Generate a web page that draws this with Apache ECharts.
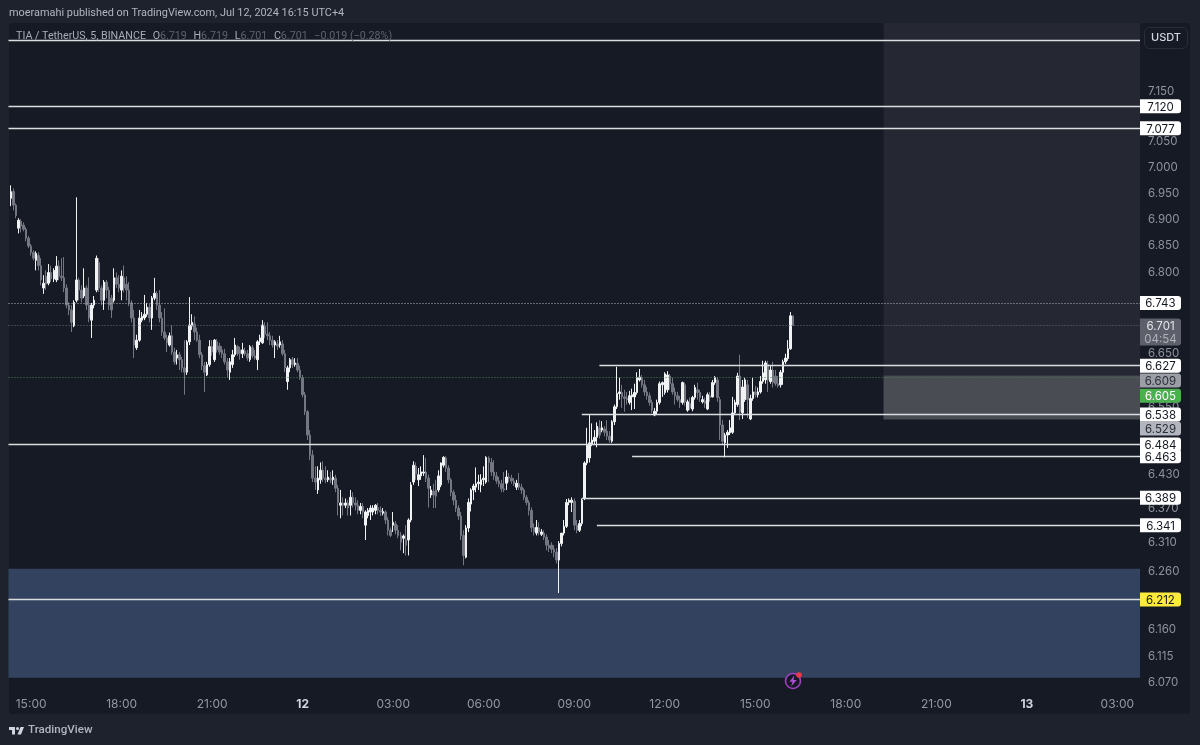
<!DOCTYPE html>
<html><head><meta charset="utf-8">
<style>html,body{margin:0;padding:0;background:#1e222d}#c{width:1200px;height:745px}#c canvas{filter:blur(0.35px)}</style>
<script src="https://cdn.jsdelivr.net/npm/echarts@6/dist/echarts.min.js"></script></head>
<body><div id="c"></div>
<script>
const opens=[
6.941,6.954,6.928,6.884,6.897,6.890,6.882,6.865,6.850,6.838,
6.823,6.832,6.813,6.771,6.793,6.780,6.800,6.788,6.786,6.812,
6.793,6.790,6.771,6.739,6.730,6.700,6.748,6.786,6.767,6.756,
6.771,6.739,6.711,6.739,6.767,6.819,6.771,6.748,6.782,6.767,
6.752,6.748,6.790,6.778,6.767,6.790,6.778,6.767,6.743,6.715,
6.660,6.674,6.711,6.715,6.722,6.735,6.715,6.752,6.761,6.739,
6.715,6.689,6.678,6.665,6.682,6.652,6.641,6.647,6.638,6.623,
6.615,6.671,6.700,6.704,6.689,6.674,6.647,6.627,6.610,6.629,
6.662,6.638,6.671,6.663,6.656,6.649,6.634,6.615,6.629,6.647,
6.662,6.656,6.649,6.654,6.649,6.638,6.660,6.645,6.638,6.671,
6.669,6.700,6.685,6.682,6.674,6.665,6.667,6.665,6.667,6.649,
6.598,6.623,6.638,6.629,6.631,6.619,6.605,6.574,6.543,6.501,
6.465,6.424,6.403,6.421,6.438,6.424,6.421,6.424,6.421,6.424,
6.406,6.376,6.380,6.376,6.380,6.376,6.390,6.380,6.376,6.367,
6.374,6.341,6.358,6.364,6.364,6.367,6.372,6.367,6.362,6.364,
6.350,6.332,6.341,6.343,6.332,6.323,6.318,6.315,6.315,6.350,
6.417,6.445,6.421,6.428,6.433,6.435,6.424,6.394,6.401,6.403,
6.403,6.412,6.447,6.460,6.442,6.421,6.399,6.385,6.371,6.357,
6.323,6.285,6.336,6.378,6.403,6.408,6.414,6.412,6.421,6.417,
6.460,6.452,6.435,6.428,6.419,6.414,6.405,6.415,6.426,6.424,
6.419,6.408,6.414,6.408,6.403,6.390,6.381,6.367,6.337,6.327,
6.336,6.325,6.327,6.320,6.306,6.306,6.299,6.294,6.280,6.309,
6.327,6.339,6.381,6.381,6.383,6.341,6.332,6.344,6.388,6.451,
6.460,6.485,6.490,6.497,6.514,6.510,6.512,6.508,6.499,6.490,
6.525,6.552,6.576,6.578,6.570,6.567,6.560,6.570,6.570,6.578,
6.601,6.605,6.592,6.579,6.572,6.560,6.537,6.544,6.560,6.592,
6.578,6.583,6.608,6.594,6.579,6.572,6.565,6.560,6.592,6.546,
6.558,6.548,6.569,6.583,6.578,6.561,6.563,6.548,6.572,6.570,
6.596,6.601,6.565,6.519,6.487,6.501,6.505,6.506,6.541,6.556,
6.608,6.541,6.565,6.592,6.530,6.567,6.579,6.574,6.579,6.598,
6.601,6.629,6.598,6.619,6.608,6.594,6.592,6.615,6.634,6.640,
6.658,6.719];
const closes=[
6.954,6.928,6.908,6.899,6.888,6.882,6.865,6.850,6.838,6.827,
6.836,6.813,6.786,6.780,6.778,6.800,6.788,6.804,6.812,6.793,
6.790,6.771,6.739,6.730,6.707,6.744,6.786,6.767,6.752,6.771,
6.739,6.715,6.739,6.748,6.827,6.771,6.748,6.782,6.767,6.739,
6.730,6.790,6.778,6.771,6.793,6.771,6.767,6.743,6.715,6.665,
6.674,6.715,6.718,6.722,6.735,6.715,6.752,6.761,6.739,6.715,
6.689,6.678,6.669,6.682,6.652,6.634,6.647,6.638,6.623,6.615,
6.671,6.702,6.707,6.689,6.674,6.647,6.627,6.615,6.629,6.662,
6.652,6.674,6.656,6.652,6.649,6.634,6.619,6.634,6.647,6.665,
6.649,6.649,6.656,6.649,6.641,6.662,6.645,6.641,6.671,6.678,
6.702,6.685,6.682,6.674,6.665,6.671,6.663,6.671,6.649,6.623,
6.623,6.638,6.629,6.632,6.619,6.605,6.574,6.543,6.501,6.465,
6.424,6.417,6.424,6.438,6.424,6.421,6.426,6.421,6.426,6.406,
6.381,6.380,6.376,6.380,6.371,6.390,6.380,6.376,6.367,6.374,
6.364,6.364,6.367,6.371,6.371,6.376,6.367,6.364,6.365,6.350,
6.332,6.323,6.346,6.332,6.323,6.311,6.322,6.306,6.350,6.412,
6.447,6.431,6.430,6.435,6.435,6.424,6.406,6.403,6.394,6.392,
6.428,6.451,6.461,6.442,6.421,6.399,6.385,6.371,6.357,6.323,
6.288,6.336,6.381,6.403,6.410,6.414,6.417,6.421,6.424,6.461,
6.452,6.435,6.428,6.419,6.414,6.405,6.403,6.426,6.424,6.419,
6.414,6.415,6.408,6.403,6.390,6.381,6.367,6.337,6.330,6.337,
6.329,6.329,6.320,6.306,6.301,6.299,6.294,6.280,6.309,6.327,
6.339,6.381,6.385,6.385,6.341,6.332,6.344,6.385,6.451,6.483,
6.487,6.492,6.497,6.517,6.501,6.514,6.506,6.499,6.492,6.525,
6.552,6.576,6.579,6.570,6.567,6.565,6.572,6.574,6.578,6.605,
6.606,6.592,6.579,6.572,6.560,6.546,6.544,6.560,6.594,6.596,
6.612,6.610,6.594,6.579,6.572,6.565,6.560,6.596,6.561,6.561,
6.550,6.569,6.587,6.578,6.569,6.565,6.558,6.574,6.569,6.596,
6.605,6.569,6.519,6.490,6.501,6.506,6.514,6.541,6.560,6.608,
6.543,6.588,6.601,6.565,6.567,6.579,6.574,6.579,6.598,6.614,
6.632,6.601,6.619,6.596,6.594,6.590,6.615,6.634,6.641,6.658,
6.719,6.701];
const highs=[
6.966,6.960,6.931,6.903,6.901,6.895,6.886,6.869,6.854,6.842,
6.840,6.838,6.827,6.795,6.804,6.816,6.813,6.808,6.831,6.823,
6.827,6.829,6.778,6.744,6.739,6.748,6.943,6.790,6.776,6.808,
6.776,6.791,6.743,6.756,6.832,6.827,6.776,6.786,6.786,6.773,
6.758,6.808,6.800,6.795,6.804,6.813,6.793,6.782,6.748,6.730,
6.684,6.730,6.726,6.758,6.743,6.741,6.756,6.790,6.765,6.767,
6.726,6.733,6.684,6.688,6.702,6.660,6.656,6.652,6.643,6.674,
6.674,6.754,6.722,6.718,6.697,6.684,6.652,6.634,6.634,6.674,
6.674,6.676,6.676,6.669,6.663,6.658,6.641,6.641,6.656,6.678,
6.665,6.662,6.669,6.660,6.656,6.665,6.665,6.656,6.674,6.684,
6.711,6.707,6.707,6.689,6.682,6.674,6.674,6.682,6.674,6.656,
6.627,6.641,6.643,6.641,6.641,6.627,6.610,6.579,6.546,6.510,
6.474,6.445,6.445,6.452,6.454,6.445,6.438,6.435,6.438,6.430,
6.412,6.403,6.390,6.388,6.385,6.403,6.399,6.390,6.385,6.380,
6.380,6.367,6.371,6.376,6.376,6.378,6.380,6.374,6.371,6.367,
6.355,6.337,6.364,6.348,6.341,6.329,6.325,6.341,6.353,6.417,
6.454,6.452,6.442,6.445,6.465,6.460,6.430,6.410,6.414,6.421,
6.438,6.452,6.463,6.463,6.447,6.424,6.403,6.394,6.376,6.364,
6.332,6.341,6.388,6.406,6.414,6.443,6.430,6.431,6.445,6.463,
6.463,6.460,6.456,6.435,6.426,6.421,6.435,6.438,6.433,6.430,
6.424,6.421,6.433,6.414,6.406,6.394,6.385,6.372,6.344,6.350,
6.346,6.334,6.332,6.325,6.315,6.311,6.306,6.301,6.313,6.316,
6.350,6.387,6.388,6.390,6.388,6.350,6.350,6.388,6.454,6.514,
6.537,6.522,6.510,6.524,6.528,6.526,6.517,6.528,6.508,6.528,
6.556,6.625,6.605,6.592,6.583,6.579,6.581,6.585,6.594,6.615,
6.621,6.610,6.601,6.588,6.578,6.565,6.550,6.565,6.598,6.598,
6.615,6.617,6.612,6.605,6.587,6.579,6.572,6.598,6.596,6.565,
6.569,6.572,6.592,6.596,6.583,6.572,6.569,6.578,6.579,6.601,
6.608,6.606,6.570,6.528,6.505,6.510,6.528,6.570,6.565,6.614,
6.647,6.601,6.605,6.601,6.574,6.605,6.590,6.587,6.608,6.636,
6.636,6.636,6.627,6.634,6.619,6.608,6.619,6.638,6.649,6.674,
6.726,6.719];
const lows=[
6.926,6.918,6.903,6.874,6.876,6.878,6.859,6.846,6.832,6.823,
6.804,6.804,6.776,6.760,6.767,6.776,6.782,6.782,6.782,6.786,
6.784,6.763,6.733,6.720,6.689,6.698,6.744,6.748,6.744,6.752,
6.730,6.707,6.678,6.733,6.763,6.763,6.739,6.730,6.752,6.730,
6.715,6.744,6.771,6.763,6.748,6.763,6.748,6.737,6.707,6.641,
6.656,6.671,6.707,6.711,6.717,6.707,6.693,6.748,6.730,6.707,
6.682,6.674,6.652,6.662,6.647,6.629,6.629,6.619,6.615,6.574,
6.610,6.665,6.693,6.674,6.671,6.641,6.619,6.579,6.608,6.625,
6.645,6.634,6.651,6.647,6.641,6.629,6.605,6.601,6.623,6.643,
6.645,6.638,6.641,6.645,6.636,6.634,6.641,6.638,6.619,6.665,
6.667,6.678,6.674,6.665,6.660,6.641,6.656,6.660,6.645,6.615,
6.583,6.615,6.623,6.625,6.615,6.601,6.569,6.537,6.492,6.456,
6.417,6.403,6.396,6.414,6.417,6.415,6.417,6.415,6.412,6.399,
6.358,6.353,6.358,6.371,6.358,6.358,6.372,6.367,6.360,6.360,
6.353,6.315,6.353,6.350,6.358,6.360,6.360,6.357,6.358,6.343,
6.323,6.320,6.329,6.325,6.318,6.297,6.292,6.288,6.288,6.346,
6.412,6.421,6.410,6.421,6.428,6.417,6.372,6.389,6.371,6.371,
6.399,6.408,6.443,6.435,6.415,6.392,6.376,6.364,6.350,6.315,
6.271,6.283,6.329,6.365,6.385,6.399,6.403,6.399,6.410,6.414,
6.417,6.428,6.421,6.414,6.408,6.399,6.399,6.403,6.417,6.414,
6.410,6.403,6.403,6.396,6.385,6.376,6.358,6.329,6.323,6.323,
6.323,6.322,6.315,6.297,6.294,6.292,6.285,6.274,6.223,6.304,
6.323,6.336,6.376,6.364,6.332,6.327,6.329,6.339,6.385,6.447,
6.452,6.481,6.483,6.479,6.495,6.506,6.499,6.492,6.487,6.487,
6.519,6.548,6.565,6.550,6.543,6.556,6.556,6.546,6.548,6.574,
6.598,6.587,6.572,6.565,6.554,6.541,6.535,6.539,6.556,6.570,
6.574,6.578,6.583,6.574,6.556,6.561,6.550,6.556,6.554,6.543,
6.546,6.544,6.565,6.565,6.561,6.558,6.550,6.546,6.561,6.569,
6.592,6.561,6.492,6.485,6.461,6.478,6.501,6.503,6.537,6.552,
6.528,6.530,6.561,6.532,6.528,6.563,6.569,6.569,6.576,6.594,
6.594,6.579,6.594,6.587,6.590,6.587,6.587,6.592,6.630,6.636,
6.656,6.701];
const priceTicks=[7.15,7.05,7.0,6.95,6.9,6.85,6.8,6.65,6.55,6.43,6.37,6.31,6.26,6.16,6.115,6.07];
const topLevel=7.252;
const resistance=[7.12,7.077];
const dottedHigh=6.743, lastClose=6.701, livePrice=6.605;
const shortLevels=[[6.627,235],[6.538,228],[6.463,248],[6.389,228],[6.341,234]];
const fullLevel=6.484, yellowLevel=6.212;
const boxUpperTop=7.286, boxMid=6.609, boxLow=6.529;
const blueTop=6.265, blueBottom=6.079;

const up='#f1f2f4', down='#747781', slotCount=451;
const categories=[];
for(let i=0;i<slotCount;i++){
  const m=(14*60+15+i*5)%1440, d=Math.floor((14*60+15+i*5)/1440);
  const h=Math.floor(m/60), mm=m%60;
  categories.push(m===0?String(11+d):String(h).padStart(2,'0')+':'+String(mm).padStart(2,'0'));
}
const candles=opens.map((o,i)=>[i+1,o,closes[i],lows[i],highs[i]]);
const FONT='Inter, "Noto Sans", sans-serif';
const SMALL='Roboto, "Noto Sans", sans-serif';
const boxLabel=(txt,bg,fg,dy)=>({show:true,position:'end',distance:0,formatter:'{t|'+txt+'}',backgroundColor:bg,
  padding:[2,0,0,0],borderRadius:[0,3,3,0],offset:[0,dy||0],
  rich:{t:{width:41,align:'center',color:fg,fontFamily:FONT,fontSize:11.5,lineHeight:12}}});
const solid={type:'solid',color:'#dcdde0',width:1.3,opacity:1};
const hidden={color:'transparent',width:0};
const L=(p,from,ls,lab)=>[{xAxis:from,yAxis:p,lineStyle:ls,label:lab},{xAxis:slotCount-1,yAxis:p}];
const lineData=[
  L(topLevel,0,solid,{show:false}),
  ...resistance.map(p=>L(p,0,solid,boxLabel(p.toFixed(3),'#ffffff','#131722'))),
  L(dottedHigh,0,{type:[1,2],color:'#b5b7bd',width:1},boxLabel(dottedHigh.toFixed(3),'#ffffff','#131722')),
  L(lastClose,0,{type:[1,2],color:'#666973',width:1},{show:true,position:'end',distance:0,
    formatter:'{a|'+lastClose.toFixed(3)+'}\n{b|04:54}',backgroundColor:'#5d606b',padding:[2,0,0,0],borderRadius:[0,3,3,0],offset:[0,6.5],
    rich:{a:{width:41,align:'center',color:'#e4e5e8',fontFamily:FONT,fontSize:11.5,lineHeight:13},b:{width:41,align:'center',color:'#b0b2b9',fontFamily:FONT,fontSize:11.5,lineHeight:12}}}),
  L(boxMid,348,hidden,boxLabel(boxMid.toFixed(3),'#9c9ea6','#2a2e39',5)),
  L(livePrice,0,{type:[1,2],color:'#4a7d55',width:1},boxLabel(livePrice.toFixed(3),'#4caf50','#ffffff',18)),
  L(boxLow,348,hidden,boxLabel(boxLow.toFixed(3),'#b2b5be','#2a2e39',9)),
  ...shortLevels.map(([p,from])=>L(p,from,solid,boxLabel(p.toFixed(3),'#ffffff','#131722'))),
  L(fullLevel,0,solid,boxLabel(fullLevel.toFixed(3),'#ffffff','#131722')),
  L(yellowLevel,0,solid,boxLabel(yellowLevel.toFixed(3),'#ffeb3b','#131722')),
];
const option={
  animation:false,backgroundColor:'#1e222d',textStyle:{fontFamily:FONT},
  grid:{left:8.5,right:60,top:23,bottom:54,show:false},
  graphic:[
    {type:'rect',z:-10,shape:{x:9,y:23,width:1181,height:691,r:3},style:{fill:'#161a25'}},
    {type:'text',z:50,x:9,y:13,style:{text:'moeramahi published on TradingView.com, Jul 12, 2024 16:15 UTC+4',fill:'#b2b5be',font:'10.9px '+SMALL,verticalAlign:'middle'}},
    {type:'text',z:50,x:16,y:36,style:{text:'{n|TIA / TetherUS, 5, BINANCE}  {n|O}{v|6.719}  {n|H}{v|6.719}  {n|L}{v|6.701}  {n|C}{v|6.701}  {v|−0.019 (−0.28%)}',verticalAlign:'middle',
      rich:{n:{fill:'#a9acb5',font:'10.7px '+SMALL},v:{fill:'#5f626c',font:'10.7px '+SMALL}}}},
    {type:'rect',z:50,shape:{x:1144.5,y:27.5,width:43,height:21,r:5},style:{fill:'#161a25',stroke:'#2a2e39',lineWidth:1}},
    {type:'text',z:51,x:1166,y:38,style:{text:'USDT',fill:'#d1d4dc',font:'500 11px '+FONT,align:'center',verticalAlign:'middle'}},
    {type:'group',z:50,x:8,y:724,scaleX:0.5,scaleY:0.5,children:[
      {type:'polygon',z:50,shape:{points:[[2,6],[14,6],[14,21],[8,21],[8,12],[2,12]]},style:{fill:'#d1d4dc'}},
      {type:'polygon',z:50,shape:{points:[[26,21],[19,21],[25,6],[32,6]]},style:{fill:'#d1d4dc'}},
      {type:'circle',z:50,shape:{cx:19,cy:9,r:3},style:{fill:'#d1d4dc'}}]},
    {type:'text',z:50,x:28,y:730,style:{text:'TradingView',fill:'#b2b5be',font:'500 11.6px '+SMALL,verticalAlign:'middle'}},
    {type:'circle',z:50,shape:{cx:793,cy:681,r:7.5},style:{fill:'#161a25',stroke:'#a23fc4',lineWidth:1.6}},
    {type:'polygon',z:51,shape:{points:[[794.3,675.5],[789.5,681.7],[792.5,681.7],[791.1,686.5],[796.7,679.9],[793.5,679.9]]},style:{fill:'#b14fd6'}},
    {type:'circle',z:52,shape:{cx:799,cy:675,r:2.8},style:{fill:'#f23645'}},
  ],
  xAxis:{type:'category',data:categories,boundaryGap:false,axisLine:{show:false},axisTick:{show:false},splitLine:{show:false},
    axisLabel:{margin:7,fontSize:12,color:'#9598a1',fontFamily:FONT,hideOverlap:false,
      interval:(i,v)=>/^\d\d$/.test(v)||(/:00$/.test(v)&&parseInt(v)%3===0),
      formatter:v=>/^\d\d$/.test(v)?'{b|'+v+'}':v,rich:{b:{fontWeight:'bold',fontSize:12,color:'#d1d4dc',fontFamily:FONT}}}},
  yAxis:{type:'log',position:'right',min:6.0566,max:boxUpperTop,axisLine:{show:false},axisTick:{show:false},splitLine:{show:false},minorTick:{show:false},minorSplitLine:{show:false},
    axisLabel:{customValues:priceTicks,margin:8,fontSize:11.5,color:'#8f929b',fontFamily:FONT,padding:[2,0,0,0],formatter:v=>(+v).toFixed(3)}},
  series:[{type:'candlestick',data:candles,encode:{x:0,y:[1,2,3,4]},barWidth:2,clip:true,
    itemStyle:{color:up,color0:down,borderColor:up,borderColor0:down,borderWidth:1},
    markArea:{silent:true,itemStyle:{opacity:1},data:[
      [{xAxis:348,yAxis:boxUpperTop,itemStyle:{color:'#252732'}},{xAxis:slotCount-1,yAxis:boxMid}],
      [{xAxis:348,yAxis:boxMid,itemStyle:{color:'#4a4c54'}},{xAxis:slotCount-1,yAxis:boxLow}],
      [{xAxis:0,yAxis:blueTop,itemStyle:{color:'#33435f'}},{xAxis:slotCount-1,yAxis:blueBottom}],
    ]},
    markLine:{silent:true,symbol:'none',animation:false,precision:4,data:lineData}
  }]
};
const chart=echarts.init(document.getElementById('c'),null,{renderer:'canvas'});
chart.setOption(option);
</script></body></html>
